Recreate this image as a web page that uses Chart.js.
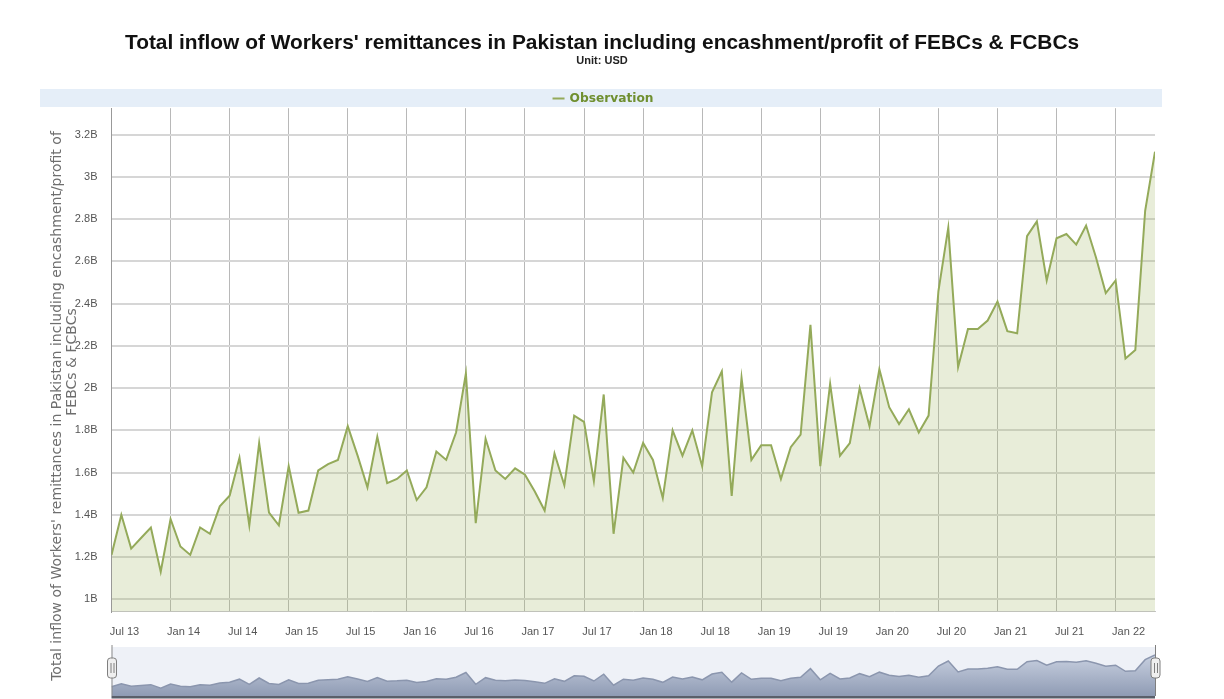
<!DOCTYPE html>
<html><head><meta charset="utf-8">
<script src="https://cdn.jsdelivr.net/npm/chart.js@4.4.0/dist/chart.umd.min.js"></script>
<style>
html,body{margin:0;padding:0;background:#fff;}
#wrap{position:relative;width:1224px;height:699px;overflow:hidden;background:#fff;}
#main{position:absolute;left:0;top:0;}
#nav{position:absolute;left:0;top:645px;}
</style></head><body>
<div id="wrap">
<canvas id="main" width="1224" height="699"></canvas>
<canvas id="nav" width="1224" height="54"></canvas>
</div>
<script>
// ---------- data (USD billions, monthly, Jun 2013 .. Apr 2022) ----------
const remittances = [
 1.21,1.40,1.24,1.29,1.34,1.13,1.38,1.25,1.21,1.34,1.31,1.44,
 1.49,1.67,1.35,1.74,1.41,1.35,1.63,1.41,1.42,1.61,1.64,1.66,
 1.82,1.68,1.53,1.77,1.55,1.57,1.61,1.47,1.53,1.70,1.66,1.79,
 2.07,1.36,1.76,1.61,1.57,1.62,1.59,1.51,1.42,1.69,1.54,1.87,
 1.84,1.56,1.97,1.31,1.67,1.60,1.74,1.66,1.48,1.80,1.68,1.80,
 1.63,1.98,2.08,1.49,2.05,1.66,1.73,1.73,1.57,1.72,1.78,2.30,
 1.63,2.02,1.68,1.74,2.00,1.82,2.09,1.91,1.83,1.90,1.79,1.87,
 2.46,2.76,2.10,2.28,2.28,2.32,2.41,2.27,2.26,2.72,2.79,2.51,
 2.71,2.73,2.68,2.77,2.62,2.45,2.51,2.14,2.18,2.84,3.12
];
const MONTH_NAMES = ['Jan','Feb','Mar','Apr','May','Jun','Jul','Aug','Sep','Oct','Nov','Dec'];
const months = remittances.map((_, i) => MONTH_NAMES[(5 + i) % 12] + ' ' + (2013 + Math.floor((5 + i) / 12)));
const xTickIndex = [0,6,12,18,24,30,36,42,48,54,60,66,72,78,84,90,96,102];
const xTickLabels = ['Jul 13','Jan 14','Jul 14','Jan 15','Jul 15','Jan 16','Jul 16','Jan 17','Jul 17',
                     'Jan 18','Jul 18','Jan 19','Jul 19','Jan 20','Jul 20','Jan 21','Jul 21','Jan 22'];
const yTicks = [1,1.2,1.4,1.6,1.8,2,2.2,2.4,2.6,2.8,3,3.2];

const TITLE = "Total inflow of Workers' remittances in Pakistan including encashment/profit of FEBCs & FCBCs";
const SUBTITLE = 'Unit: USD';
const SERIES_NAME = 'Observation';
const Y_TITLE_1 = "Total inflow of Workers' remittances in Pakistan including encashment/profit of";
const Y_TITLE_2 = 'FEBCs & FCBCs';

// ---------- styling ----------
const FONT = '"Liberation Sans", Arial, sans-serif';
const FONT2 = '"DejaVu Sans", Verdana, sans-serif';
const LINE_COLOR = '#94aa5a';
const mctx = document.createElement('canvas').getContext('2d');
function fitSize(text, weight, base, target, fam) {
  mctx.font = weight + ' ' + base + 'px ' + fam;
  return base * target / mctx.measureText(text).width;
}
const titleSize = fitSize(TITLE, 'bold', 17, 955, FONT);
const titleLH = titleSize * 1.2;
const subSize = 11, subLH = subSize * 1.2, subPadTop = -1.5;
const subPadBottom = 108.2 - 31 - titleLH - subPadTop - subLH;
const legSize = fitSize(SERIES_NAME, 'bold', 12, 84, FONT2);
const yTitleSize = fitSize(Y_TITLE_1, 'normal', 12, 550, FONT2);

const headerPlugin = {
  id: 'header',
  beforeDraw(chart) {
    const ctx = chart.ctx;
    ctx.save();
    // legend band
    ctx.fillStyle = '#e5eef8';
    ctx.fillRect(40, 89, 1122, 18);
    ctx.font = 'bold ' + legSize + 'px ' + FONT2;
    const tw = ctx.measureText(SERIES_NAME).width;
    const lw = 12, gap = 5, total = lw + gap + tw, x0 = 603 - total / 2;
    ctx.strokeStyle = LINE_COLOR; ctx.lineWidth = 2;
    ctx.beginPath(); ctx.moveTo(x0, 98.5); ctx.lineTo(x0 + lw, 98.5); ctx.stroke();
    ctx.fillStyle = '#6f8f30'; ctx.textBaseline = 'middle'; ctx.textAlign = 'left';
    ctx.fillText(SERIES_NAME, x0 + lw + gap, 99);
    // y axis title (two rotated lines)
    ctx.fillStyle = '#6e6e6e'; ctx.font = yTitleSize + 'px ' + FONT2; ctx.textAlign = 'center';
    ctx.save(); ctx.translate(57, 406); ctx.rotate(-Math.PI / 2); ctx.fillText(Y_TITLE_1, 0, 0); ctx.restore();
    ctx.save(); ctx.translate(72, 362); ctx.rotate(-Math.PI / 2); ctx.fillText(Y_TITLE_2, 0, 0); ctx.restore();
    ctx.restore();
  }
};

new Chart(document.getElementById('main'), {
  type: 'line',
  data: {
    datasets: [{
      label: SERIES_NAME,
      data: remittances.map((v, i) => ({ x: i, y: v })),
      borderColor: LINE_COLOR,
      backgroundColor: 'rgba(163,184,102,0.25)',
      borderWidth: 2,
      fill: 'start',
      pointRadius: 0,
      tension: 0
    }]
  },
  options: {
    responsive: false,
    animation: false,
    layout: { padding: { left: 49, right: 69, top: 0, bottom: 0 } },
    plugins: {
      legend: { display: false },
      tooltip: { enabled: false },
      title: { display: true, text: TITLE, color: '#111',
               font: { family: FONT, size: titleSize, weight: 'bold', lineHeight: 1.2 },
               padding: { top: 31, bottom: 0 } },
      subtitle: { display: true, text: SUBTITLE, color: '#222',
                  font: { family: FONT, size: subSize, weight: 'bold', lineHeight: 1.2 },
                  padding: { top: subPadTop, bottom: subPadBottom } }
    },
    scales: {
      x: {
        type: 'linear', min: 0, max: remittances.length - 1,
        afterBuildTicks: s => { s.ticks = xTickIndex.map(v => ({ value: v })); },
        afterFit: s => { s.height = 87.3; s.paddingLeft = 0; s.paddingRight = 0; },
        ticks: { autoSkip: false, maxRotation: 0, padding: 14, labelOffset: 13, color: '#555',
                 font: { family: FONT, size: 11 },
                 callback: (v, i) => xTickLabels[i] },
        grid: { color: '#b8b8b8', lineWidth: 1, drawTicks: false },
        border: { color: '#c4c4c4' }
      },
      y: {
        min: 0.941, max: 3.326,
        afterBuildTicks: s => { s.ticks = yTicks.map(v => ({ value: v })); },
        afterFit: s => { s.width = 62.5; s.paddingTop = 0; s.paddingBottom = 0; },
        ticks: { padding: 14, color: '#555', font: { family: FONT, size: 11 },
                 callback: v => (+v.toFixed(1)) + 'B' },
        grid: { color: '#d6d6d6', lineWidth: 2, drawTicks: false },
        border: { color: '#999', width: 1 }
      }
    }
  },
  plugins: [headerPlugin]
});

// ---------- navigator ----------
const navPlugin = {
  id: 'navdeco',
  beforeDatasetsDraw(chart) {
    const { ctx, chartArea: a } = chart;
    ctx.save();
    ctx.fillStyle = '#eef1f7';
    ctx.fillRect(a.left, a.top - 5, a.right - a.left, a.bottom - a.top + 5);
    ctx.restore();
  },
  afterDraw(chart) {
    const { ctx, chartArea: a } = chart;
    ctx.save();
    ctx.fillStyle = '#5a5f6a';
    ctx.fillRect(a.left, a.bottom, a.right - a.left, 2.5);
    ctx.strokeStyle = '#8a8a8a'; ctx.lineWidth = 1;
    [a.left, a.right].forEach(x => {
      ctx.beginPath(); ctx.moveTo(x + 0.5, a.top - 7); ctx.lineTo(x + 0.5, a.bottom); ctx.stroke();
      const hx = x - 4, hy = 13, hw = 9, hh = 20;
      ctx.fillStyle = '#efefef'; ctx.strokeStyle = '#7f7f7f';
      ctx.beginPath();
      if (ctx.roundRect) ctx.roundRect(hx, hy, hw, hh, 3); else ctx.rect(hx, hy, hw, hh);
      ctx.fill(); ctx.stroke();
      ctx.beginPath();
      ctx.moveTo(x - 0.5, hy + 5); ctx.lineTo(x - 0.5, hy + hh - 5);
      ctx.moveTo(x + 2.5, hy + 5); ctx.lineTo(x + 2.5, hy + hh - 5);
      ctx.stroke();
    });
    ctx.restore();
  }
};

new Chart(document.getElementById('nav'), {
  type: 'line',
  data: {
    datasets: [{
      data: remittances.map((v, i) => ({ x: i, y: v })),
      borderColor: '#8b96ae',
      borderWidth: 1.5,
      pointRadius: 0,
      tension: 0,
      fill: 'start',
      backgroundColor: c => {
        const { ctx, chartArea } = c.chart;
        if (!chartArea) return '#b5bfd2';
        const g = ctx.createLinearGradient(0, chartArea.top, 0, chartArea.bottom);
        g.addColorStop(0, '#ccd4e3');
        g.addColorStop(1, '#8f9bb4');
        return g;
      }
    }]
  },
  options: {
    responsive: false,
    animation: false,
    layout: { padding: { left: 111.5, right: 69, top: 7, bottom: 3 } },
    plugins: { legend: { display: false }, tooltip: { enabled: false } },
    scales: {
      x: { type: 'linear', display: false, min: 0, max: remittances.length - 1 },
      y: { display: false, min: 0.66, max: 3.3 }
    }
  },
  plugins: [navPlugin]
});
</script>
</body></html>
